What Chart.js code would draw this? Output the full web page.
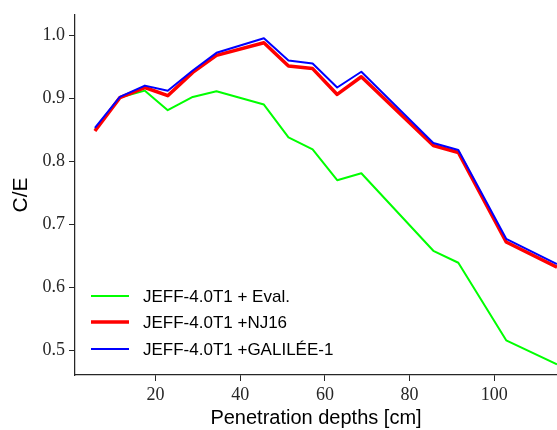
<!DOCTYPE html>
<html>
<head>
<meta charset="utf-8">
<script src="https://cdn.jsdelivr.net/npm/chart.js@4/dist/chart.umd.min.js"></script>
<style>
html,body{margin:0;padding:0;background:#fff;}
#wrap{width:557px;height:430px;}
</style>
</head>
<body>
<div id="wrap"><canvas id="c" width="557" height="430"></canvas></div>
<script>
// Penetration depths (cm)
const depths = [5.7, 11.6, 17.5, 22.9, 28.8, 34.4, 45.6, 51.4, 57.1, 62.9, 68.6, 85.6, 91.5, 102.8, 114.8];
// C/E values per library
const evalCE    = [0.850, 0.901, 0.912, 0.881, 0.902, 0.911, 0.890, 0.838, 0.819, 0.770, 0.781, 0.658, 0.639, 0.516, 0.478];
const nj16CE    = [0.848, 0.901, 0.917, 0.904, 0.941, 0.968, 0.988, 0.951, 0.947, 0.906, 0.934, 0.825, 0.814, 0.672, 0.632];
const galileeCE = [0.853, 0.902, 0.920, 0.912, 0.944, 0.972, 0.995, 0.960, 0.955, 0.917, 0.942, 0.829, 0.818, 0.677, 0.637];
const seriesLabels = ['JEFF-4.0T1 + Eval.', 'JEFF-4.0T1 +NJ16', 'JEFF-4.0T1 +GALILÉE-1'];
const xTicks = [20, 40, 60, 80, 100];
const yTicks = [0.5, 0.6, 0.7, 0.8, 0.9, 1.0];

const pts = (ys) => depths.map((d, i) => ({x: d, y: ys[i]}));
const axisColor = '#262626';

const legendPlugin = {
  id: 'insideLegend',
  afterDatasetsDraw(chart) {
    const ctx = chart.ctx;
    const rows = [296, 322, 349];
    ctx.save();
    chart.data.datasets.forEach((ds, i) => {
      const y = rows[i];
      ctx.beginPath();
      ctx.strokeStyle = ds.borderColor;
      ctx.lineWidth = ds.borderWidth;
      ctx.lineCap = 'butt';
      ctx.moveTo(91, y);
      ctx.lineTo(129, y);
      ctx.stroke();
      ctx.fillStyle = '#000';
      ctx.font = '17px "Liberation Sans", Arial, sans-serif';
      ctx.textBaseline = 'middle';
      ctx.textAlign = 'left';
      ctx.fillText(ds.label, 143, y + 1);
    });
    ctx.restore();
  }
};

new Chart(document.getElementById('c'), {
  type: 'line',
  data: {
    datasets: [
      {label: seriesLabels[0], data: pts(evalCE), borderColor: '#00ff00', borderWidth: 2, order: 2},
      {label: seriesLabels[1], data: pts(nj16CE), borderColor: '#ff0000', borderWidth: 3.5, order: 1},
      {label: seriesLabels[2], data: pts(galileeCE), borderColor: '#0000ff', borderWidth: 2, order: 0}
    ]
  },
  options: {
    responsive: false,
    devicePixelRatio: 1,
    animation: false,
    elements: {
      point: {radius: 0},
      line: {tension: 0, fill: false, borderJoinStyle: 'round', borderCapStyle: 'butt'}
    },
    layout: {padding: {top: 15, right: 0, left: 0, bottom: 0}},
    plugins: {
      legend: {display: false},
      tooltip: {enabled: false}
    },
    scales: {
      x: {
        type: 'linear',
        min: 1,
        max: 114.8,
        afterBuildTicks: (s) => { s.ticks = xTicks.map(v => ({value: v})); },
        afterFit: (s) => { s.height = 55; },
        grid: {display: true, drawOnChartArea: false, drawTicks: true, tickLength: 6, tickColor: axisColor, tickWidth: 1},
        border: {display: true, color: axisColor, width: 1.25},
        ticks: {
          color: axisColor,
          padding: 3,
          maxRotation: 0,
          autoSkip: false,
          font: {family: '"Liberation Serif", "Times New Roman", serif', size: 18},
          callback: (v) => String(v)
        },
        title: {
          display: true,
          text: 'Penetration depths [cm]',
          color: '#000',
          font: {family: '"Liberation Sans", Arial, sans-serif', size: 20, lineHeight: 1.2},
          padding: {top: 0, bottom: 0}
        }
      },
      y: {
        type: 'linear',
        min: 0.461,
        max: 1.032,
        afterBuildTicks: (s) => { s.ticks = yTicks.map(v => ({value: v})); },
        afterFit: (s) => { s.width = 75; },
        grid: {display: true, drawOnChartArea: false, drawTicks: true, tickLength: 6, tickColor: axisColor, tickWidth: 1},
        border: {display: true, color: axisColor, width: 1.25},
        ticks: {
          color: axisColor,
          padding: 4,
          autoSkip: false,
          font: {family: '"Liberation Serif", "Times New Roman", serif', size: 18},
          callback: (v) => Number(v).toFixed(1)
        },
        title: {
          display: true,
          text: 'C/E',
          color: '#000',
          font: {family: '"Liberation Sans", Arial, sans-serif', size: 21, lineHeight: 1.2},
          padding: {top: 9, bottom: 0}
        }
      }
    }
  },
  plugins: [legendPlugin]
});
</script>
</body>
</html>
